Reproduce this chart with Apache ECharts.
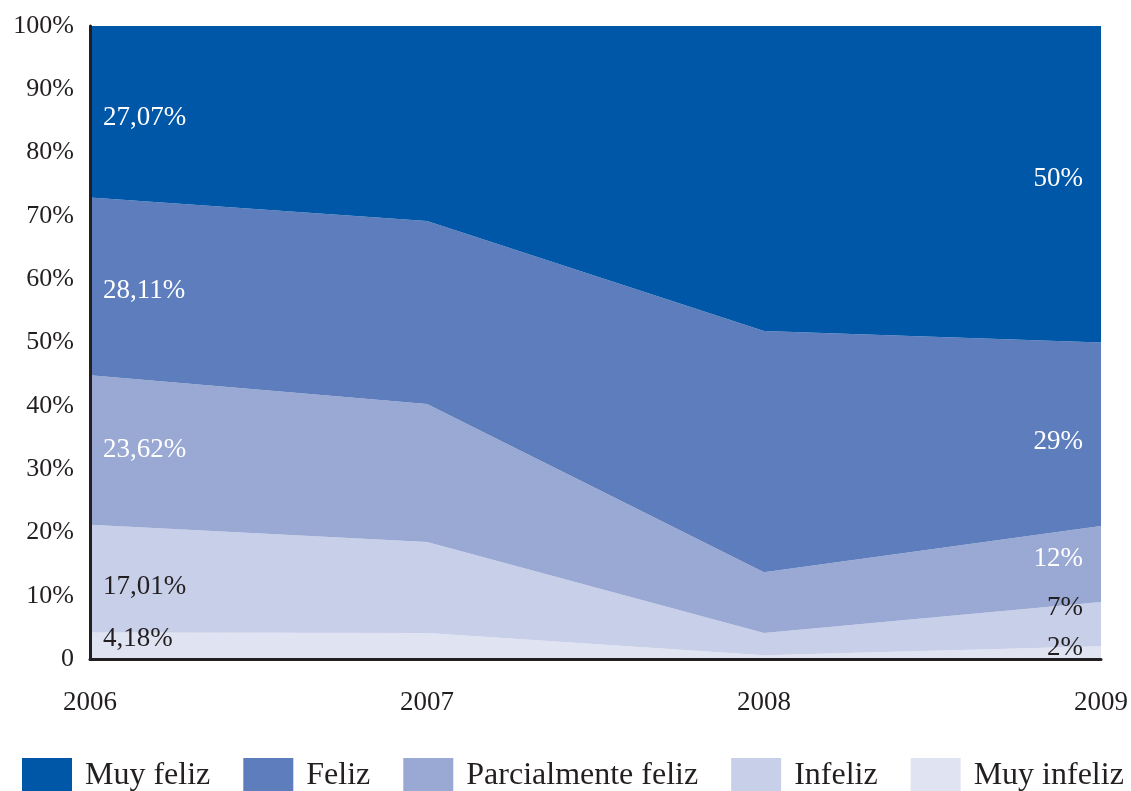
<!DOCTYPE html>
<html>
<head>
<meta charset="utf-8">
<script src="https://cdn.jsdelivr.net/npm/echarts@6.0.0/dist/echarts.min.js"></script>
<style>
  html, body { margin: 0; padding: 0; background: #fff; }
  #chart { width: 1131px; height: 791px; }
</style>
</head>
<body>
<div id="chart"></div>
<script>
const years = ['2006', '2007', '2008', '2009']
const legendNames = ['Muy feliz', 'Feliz', 'Parcialmente feliz', 'Infeliz', 'Muy infeliz']

// porcentajes por año (de abajo hacia arriba en la pila)
const muyInfeliz = [4.18, 4.1, 0.6, 2]
const infeliz = [17.01, 14.4, 3.5, 7]
const parcialmente = [23.62, 21.8, 9.6, 12]
const feliz = [28.11, 28.9, 38.1, 29]
const muyFeliz = [27.07, 30.8, 48.2, 50]

const ink = '#231f20'
const serif = '"Liberation Serif", "DejaVu Serif", serif'

function fmt(v) {
  return String(v).replace('.', ',') + '%'
}

// etiquetas solo en 2006 (derecha) y 2009 (izquierda)
function buildData(values, dyFirst, dyLast, color) {
  return values.map((v, i) => {
    if (i === 0) {
      return { value: v, label: { show: true, position: 'right', offset: [8, dyFirst], color } }
    }
    if (i === values.length - 1) {
      return { value: v, label: { show: true, position: 'left', offset: [-13, dyLast], color } }
    }
    return v
  })
}

function areaSeries(name, values, color, dyFirst, dyLast, labelColor) {
  return {
    name,
    type: 'line',
    stack: 'total',
    data: buildData(values, dyFirst, dyLast, labelColor),
    symbol: 'circle',
    symbolSize: 0,
    lineStyle: { width: 0 },
    itemStyle: { color },
    areaStyle: { color, opacity: 1 },
    label: {
      fontFamily: serif,
      fontSize: 27,
      formatter: (p) => fmt(p.value)
    },
    emphasis: { disabled: true },
    animation: false
  }
}

const chart = echarts.init(document.getElementById('chart'))

chart.setOption({
  backgroundColor: '#fff',
  grid: { left: 90, right: 30, top: 26, bottom: 132 },
  legend: {
    data: legendNames,
    left: 17,
    top: 753,
    icon: 'rect',
    itemWidth: 50,
    itemHeight: 36,
    itemGap: 33,
    selectedMode: false,
    textStyle: { fontFamily: serif, fontSize: 32, color: ink, padding: [0, 0, 0, 8] }
  },
  xAxis: {
    type: 'category',
    data: years,
    boundaryGap: false,
    z: 10,
    axisLine: { lineStyle: { color: ink, width: 3 } },
    axisTick: { show: false },
    axisLabel: { color: ink, fontFamily: serif, fontSize: 27, margin: 30 },
    splitLine: { show: false }
  },
  yAxis: {
    type: 'value',
    min: 0,
    max: 100,
    interval: 10,
    z: 10,
    axisLine: { show: true, lineStyle: { color: ink, width: 3 } },
    axisTick: { show: false },
    axisLabel: {
      color: ink,
      fontFamily: serif,
      fontSize: 26,
      margin: 16,
      formatter: (v) => (v === 0 ? '0' : v + '%')
    },
    splitLine: { show: false }
  },
  series: [
    areaSeries('Muy infeliz', muyInfeliz, '#e0e3f1', 6, 2, ink),
    areaSeries('Infeliz', infeliz, '#c8cfe8', 62, 6, ink),
    areaSeries('Parcialmente feliz', parcialmente, '#9aa9d4', 75, 33, '#fff'),
    areaSeries('Feliz', feliz, '#5e7dbc', 93, 99, '#fff'),
    areaSeries('Muy feliz', muyFeliz, '#0057a7', 92, 153, '#fff')
  ]
})
</script>
</body>
</html>
